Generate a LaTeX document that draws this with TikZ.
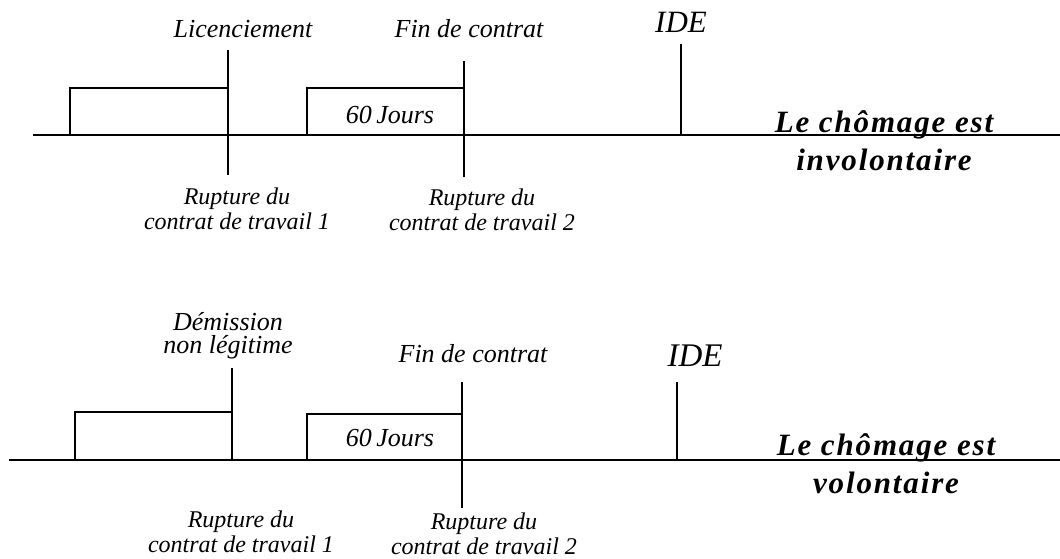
\documentclass[tikz,border=0pt]{standalone}
\usepackage{fontspec}
\setmainfont{Liberation Serif}
\newfontfamily\headfont[LetterSpace=6]{Liberation Serif}
\begin{document}
\begin{tikzpicture}[x=1pt,y=-1pt,
  axis/.style={line width=1.7pt},
  tick/.style={line width=1.4pt},
  lbl/.style={font=\fontsize{26}{27}\selectfont\itshape, anchor=base, inner sep=0pt},
  ide/.style={font=\fontsize{#1}{#1}\selectfont\itshape, anchor=base, inner sep=0pt},
  rup/.style={font=\fontsize{24}{25}\selectfont\itshape, align=center, anchor=base, inner sep=0pt},
  twoline/.style={font=\fontsize{26}{23}\selectfont\itshape, align=center, anchor=base, inner sep=0pt},
  verdict/.style={font=\headfont\fontsize{31}{38}\selectfont\bfseries\itshape, align=center, anchor=base, inner sep=0pt}
]
\useasboundingbox (0,0) rectangle (1060,559);

% ---------- involuntary unemployment ----------
\coordinate (a0) at (33,135);
\coordinate (a1) at (1060,135);
\coordinate (b1l) at (70,135);   \coordinate (b1tl) at (70,88);  \coordinate (b1tr) at (228,88);
\coordinate (r1top) at (228,50); \coordinate (r1bot) at (228,175);
\coordinate (b2l) at (307,135);  \coordinate (b2tl) at (307,88); \coordinate (b2tr) at (464,88);
\coordinate (r2top) at (464,61); \coordinate (r2bot) at (464,177);
\coordinate (idetop) at (681,44); \coordinate (idebot) at (681,135);

\draw[axis] (a0) -- (a1);
\draw[tick] (b1l) -- (b1tl) -- (b1tr);
\draw[tick] (r1top) -- (r1bot);
\draw[tick] (b2l) -- (b2tl) -- (b2tr);
\draw[tick] (r2top) -- (r2bot);
\draw[tick] (idetop) -- (idebot);

\node[lbl] (lic) at (243,38) {Licenciement};
\node[lbl] (fin1) at (469,38) {Fin de contrat};
\node[ide=31] (ide1) at (681,33) {IDE};
\node[lbl] (jours1) at (390,124) {60\,Jours};
\node[rup] (rup11) at (237,229) {Rupture du\\contrat de travail 1};
\node[rup] (rup12) at (482,230) {Rupture du\\contrat de travail 2};
\node[verdict] (inv) at (884,170) {Le chômage est\\involontaire};

% ---------- voluntary unemployment ----------
\coordinate (c0) at (9,460);
\coordinate (c1) at (1060,460);
\coordinate (d1l) at (75,460);   \coordinate (d1tl) at (75,412);  \coordinate (d1tr) at (232,412);
\coordinate (s1top) at (232,368); \coordinate (s1bot) at (232,460);
\coordinate (d2l) at (307,460);  \coordinate (d2tl) at (307,414); \coordinate (d2tr) at (462,414);
\coordinate (s2top) at (462,382); \coordinate (s2bot) at (462,508);
\coordinate (idetop2) at (677,382); \coordinate (idebot2) at (677,460);

\draw[axis] (c0) -- (c1);
\draw[tick] (d1l) -- (d1tl) -- (d1tr);
\draw[tick] (s1top) -- (s1bot);
\draw[tick] (d2l) -- (d2tl) -- (d2tr);
\draw[tick] (s2top) -- (s2bot);
\draw[tick] (idetop2) -- (idebot2);

\node[twoline] (dem) at (228,353) {Démission\\non légitime};
\node[lbl] (fin2) at (473,362) {Fin de contrat};
\node[ide=33] (ide2) at (695,366) {IDE};
\node[lbl] (jours2) at (390,446) {60\,Jours};
\node[rup] (rup21) at (241,552) {Rupture du\\contrat de travail 1};
\node[rup] (rup22) at (484,554) {Rupture du\\contrat de travail 2};
\node[verdict] (vol) at (886,493) {Le chômage est\\volontaire};
\end{tikzpicture}
\end{document}
